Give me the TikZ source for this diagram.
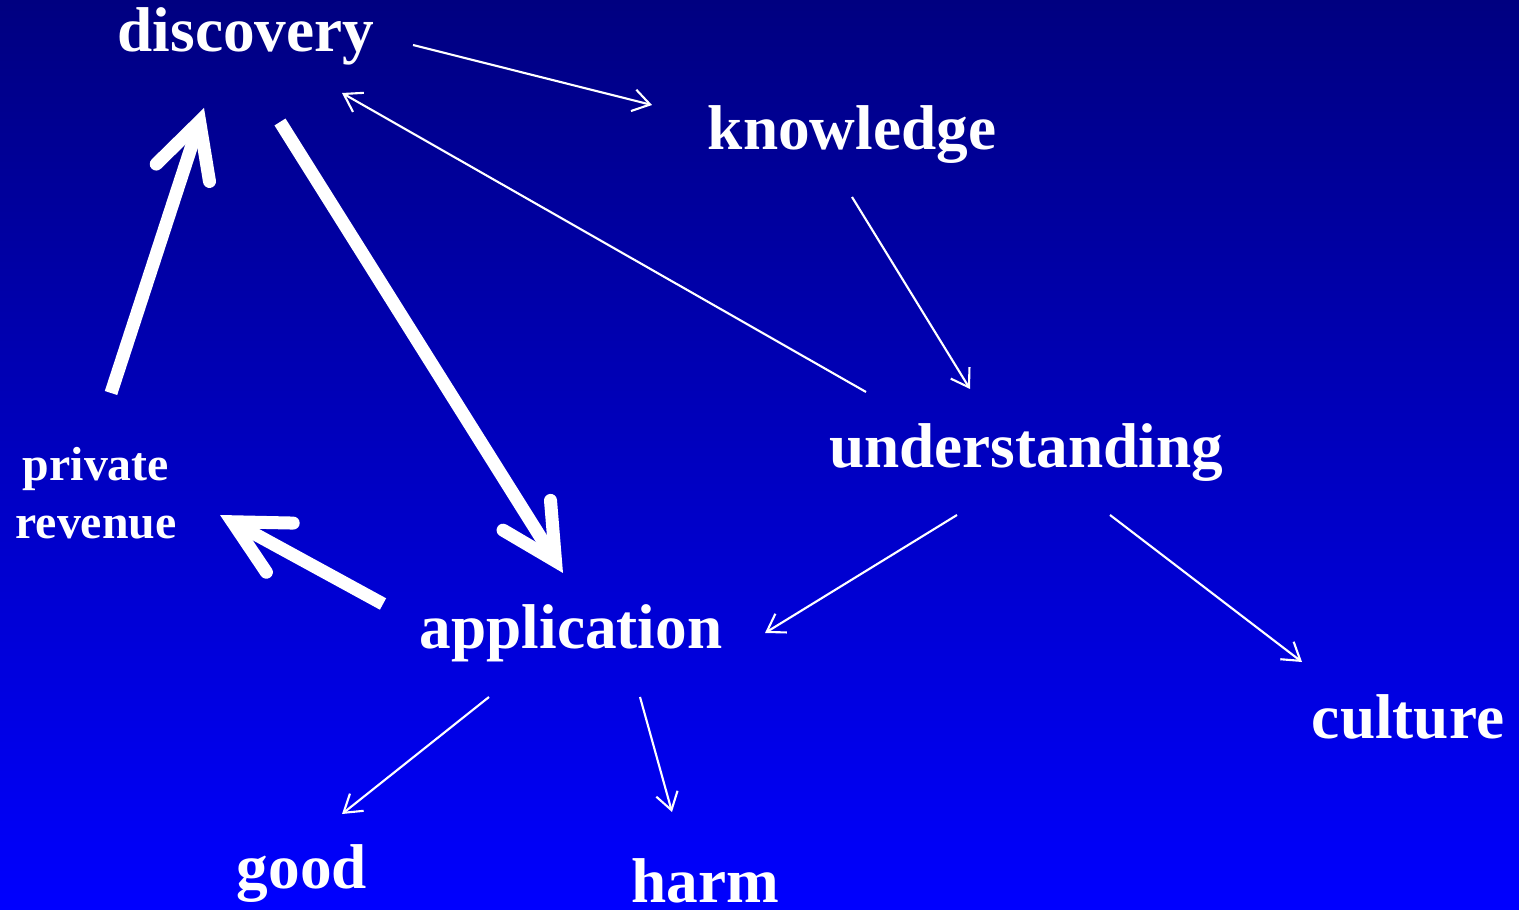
\documentclass[tikz,border=0pt]{standalone}
\usepackage{fontspec}
\setmainfont{Liberation Serif}
\usetikzlibrary{arrows.meta,calc}

\definecolor{slidetop}{RGB}{0,0,128}
\definecolor{slidebot}{RGB}{0,0,255}

\begin{document}
\begin{tikzpicture}[
    lbl/.style={text=white, font=\fontsize{18}{21.6}\selectfont\bfseries, inner sep=0pt, anchor=base},
    small/.style={text=white, font=\fontsize{13.6}{16.5}\selectfont\bfseries, inner sep=0pt, align=center},
    thinarr/.style={white, line width=0.6pt, -{Straight Barb[length=1.7mm,width=2.2mm]}},
    thickarr/.style={white, line width=3.7pt, line cap=butt, -{Straight Barb[length=5.4mm,width=5.6mm,line cap=round]}}
  ]
  % background
  \useasboundingbox (0,0) rectangle (15.19,-9.10);
  \shade[top color=slidetop, bottom color=slidebot] (0,0) rectangle (15.19,-9.10);

  % words
  \node[lbl] (disc) at (2.46,-0.52) {discovery};
  \node[lbl] (know) at (8.52,-1.50) {knowledge};
  \node[lbl] (und) at (10.26,-4.68) {understanding};
  \node[lbl] (app) at (5.71,-6.48) {application};
  \node[lbl] (cult) at (14.08,-7.38) {culture};
  \node[lbl] (good) at (3.02,-8.88) {good};
  \node[lbl] (harm) at (7.05,-9.02) {harm};
  \node[small] (priv) at (0.96,-4.93) {private\\revenue};

  % thin arrows
  \draw[thinarr] ($(disc.base)+(1.67,0.07)$) -- ($(know.base)+(-2.00,0.45)$);
  \draw[thinarr] ($(know.base)+(0,-0.47)$) -- ($(und.base)+(-0.56,0.79)$);
  \draw[thinarr] ($(und.base)+(-1.60,0.76)$) -- ($(disc.base)+(0.96,-0.41)$);
  \draw[thinarr] ($(und.base)+(-0.69,-0.47)$) -- ($(app.base)+(1.94,0.15)$);
  \draw[thinarr] ($(und.base)+(0.84,-0.47)$) -- ($(cult.base)+(-1.06,0.76)$);
  \draw[thinarr] ($(app.base)+(-0.82,-0.49)$) -- ($(good.base)+(0.40,0.74)$);
  \draw[thinarr] ($(app.base)+(0.69,-0.49)$) -- ($(harm.base)+(-0.33,0.90)$);

  % thick arrows
  \draw[thickarr] ($(disc.base)+(0.34,-0.70)$) -- ($(app.base)+(-0.08,0.75)$);
  \draw[thickarr] ($(app.base)+(-1.88,0.44)$) -- ($(priv)+(1.24,-0.22)$);
  \draw[thickarr] ($(priv)+(0.15,1.00)$) -- ($(disc.base)+(-0.42,-0.56)$);
\end{tikzpicture}
\end{document}
